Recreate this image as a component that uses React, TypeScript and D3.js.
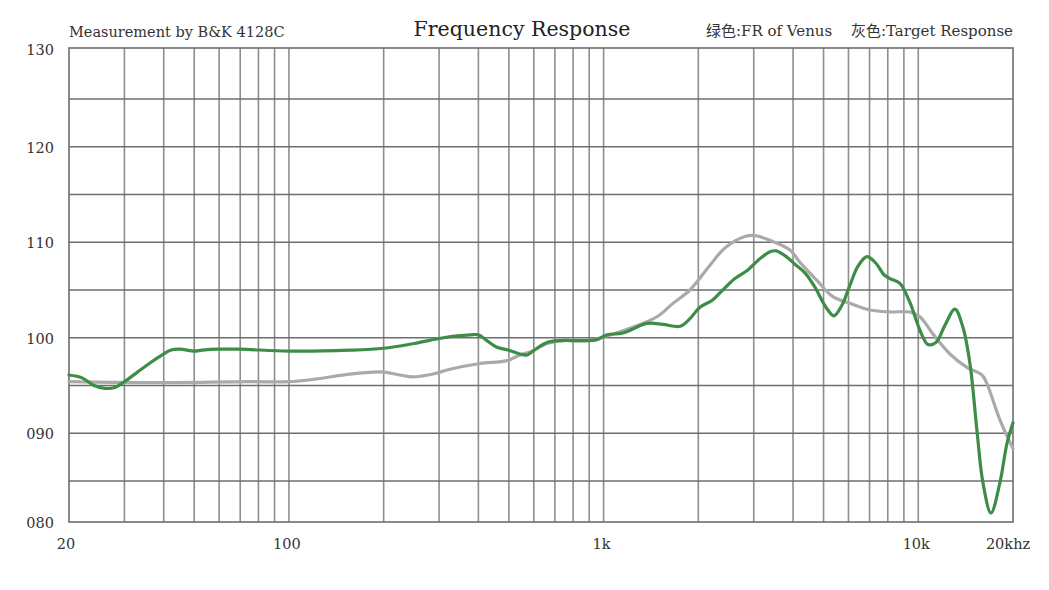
import React from "react";
import * as d3 from "d3";

// ---- data ----
const greenFreq = [20, 22, 24, 26, 28, 30, 33, 36, 40, 42, 45, 50, 53, 60, 70, 100, 156, 200, 250, 310, 376, 400, 426, 458, 500, 542, 571, 614, 661, 727, 841, 952, 1025, 1152, 1373, 1544, 1748, 1881, 2023, 2209, 2342, 2614, 2875, 3094, 3378, 3529, 3770, 4055, 4364, 4694, 5088, 5394, 5720, 6065, 6432, 6870, 7336, 7778, 8127, 8740, 9406, 10120, 10732, 11378, 12152, 13078, 13865, 14594, 15360, 16050, 17018, 18174, 19128, 20000];
const greenDb = [96.1, 95.8, 95.0, 94.7, 94.8, 95.4, 96.4, 97.3, 98.3, 98.7, 98.8, 98.6, 98.7, 98.8, 98.8, 98.6, 98.7, 98.9, 99.4, 100.0, 100.3, 100.3, 99.7, 99.0, 98.7, 98.3, 98.2, 98.9, 99.5, 99.7, 99.7, 99.8, 100.3, 100.5, 101.5, 101.4, 101.2, 102.0, 103.2, 103.9, 104.7, 106.2, 107.1, 108.1, 109.0, 109.1, 108.6, 107.7, 106.8, 105.3, 103.2, 102.3, 103.4, 105.5, 107.5, 108.5, 107.8, 106.6, 106.2, 105.7, 103.7, 100.8, 99.3, 99.5, 101.3, 103.0, 101.1, 97.3, 90.3, 84.8, 81.1, 84.8, 88.9, 91.1];

const grayFreq = [20, 36, 75, 100, 123, 156, 185, 200, 225, 248, 287, 325, 405, 493, 542, 583, 661, 743, 885, 1025, 1213, 1478, 1661, 1881, 2178, 2430, 2812, 3026, 3378, 3910, 4206, 4764, 5354, 6065, 7022, 8127, 9406, 10120, 11132, 12606, 14274, 15932, 16524, 18174, 20000];
const grayDb = [95.4, 95.3, 95.4, 95.4, 95.7, 96.2, 96.4, 96.4, 96.1, 95.9, 96.2, 96.7, 97.3, 97.6, 98.2, 98.5, 99.4, 99.7, 99.7, 100.2, 101.0, 102.2, 103.6, 105.0, 107.6, 109.4, 110.6, 110.7, 110.2, 109.2, 107.9, 106.0, 104.3, 103.6, 102.9, 102.7, 102.7, 102.2, 100.4, 98.3, 96.9, 96.1, 95.2, 91.4, 88.4];

const gridFreqs = [30, 40, 50, 60, 70, 80, 90, 100, 200, 300, 400, 500, 600, 700, 800, 900, 1000, 2000, 3000, 4000, 5000, 6000, 7000, 8000, 9000, 10000];
const gridDbs = [85, 90, 95, 100, 105, 110, 115, 120, 125];
const yTickValues = [130, 120, 110, 100, 90, 80];
const yTickLabels = ["130", "120", "110", "100", "090", "080"];
const xTickValues = [20, 100, 1000, 10000, 20000];
const xTickLabels = ["20", "100", "1k", "10k", "20khz"];

const W = 1049;
const H = 590;
const serif = "'DejaVu Serif', 'Noto Sans CJK SC', serif";

export default function App() {
  const x = d3.scaleLog().domain([20, 20000]).range([69, 1013]);
  const y = d3.scaleLinear().domain([80, 85, 125, 130]).range([522, 481, 99, 48]);

  const makePath = (fs: number[], ds: number[]) =>
    d3
      .line<[number, number]>()
      .x((d) => x(d[0]))
      .y((d) => y(d[1]))
      .curve(d3.curveCatmullRom.alpha(0.5))(fs.map((f, i) => [f, ds[i]]) as [number, number][]) || "";

  const gridColor = "#8e8e8e";
  const hColor = "#6e6e6e";

  return (
    <svg width={W} height={H} style={{ position: "absolute", left: 0, top: 0, background: "#fff" }}>
      <rect x={0} y={0} width={W} height={H} fill="#fff" />
      {gridFreqs.map((f) => (
        <line key={"v" + f} x1={x(f)} x2={x(f)} y1={y(130)} y2={y(80)} stroke={gridColor} strokeWidth={1.6} />
      ))}
      {gridDbs.map((v) => (
        <line key={"h" + v} x1={x(20)} x2={x(20000)} y1={y(v)} y2={y(v)} stroke={hColor} strokeWidth={1.5} />
      ))}
      <rect x={x(20)} y={y(130)} width={x(20000) - x(20)} height={y(80) - y(130)} fill="none" stroke={hColor} strokeWidth={1.6} />

      <path d={makePath(grayFreq, grayDb)} fill="none" stroke="#aaaaaa" strokeWidth={3.2} strokeLinejoin="round" strokeLinecap="round" />
      <path d={makePath(greenFreq, greenDb)} fill="none" stroke="#3d8d46" strokeWidth={3.2} strokeLinejoin="round" strokeLinecap="round" />

      {yTickValues.map((v, i) => (
        <text key={"yt" + v} x={54} y={i === 0 ? 50 : i === yTickValues.length - 1 ? 523 : y(v) + 1} textAnchor="end" dominantBaseline="central" fontFamily={serif} fontSize={14.5} fill="#333">
          {yTickLabels[i]}
        </text>
      ))}
      {xTickValues.map((v, i) => (
        <text key={"xt" + v} x={i === xTickValues.length - 1 ? 1008 : i === 0 ? 66 : x(v) - 2} y={544} textAnchor="middle" dominantBaseline="central" fontFamily={serif} fontSize={14.5} fill="#333">
          {xTickLabels[i]}
        </text>
      ))}

      <text x={69} y={37} fontFamily={serif} fontSize={14.5} fill="#333">Measurement by B&amp;K 4128C</text>
      <text x={522} y={36} textAnchor="middle" fontFamily={serif} fontSize={20.5} fill="#222">Frequency Response</text>
      <text x={706} y={36} fontFamily={serif} fontSize={15} fill="#333">绿色:FR of Venus</text>
      <text x={1013} y={36} textAnchor="end" fontFamily={serif} fontSize={15} fill="#333">灰色:Target Response</text>
    </svg>
  );
}
